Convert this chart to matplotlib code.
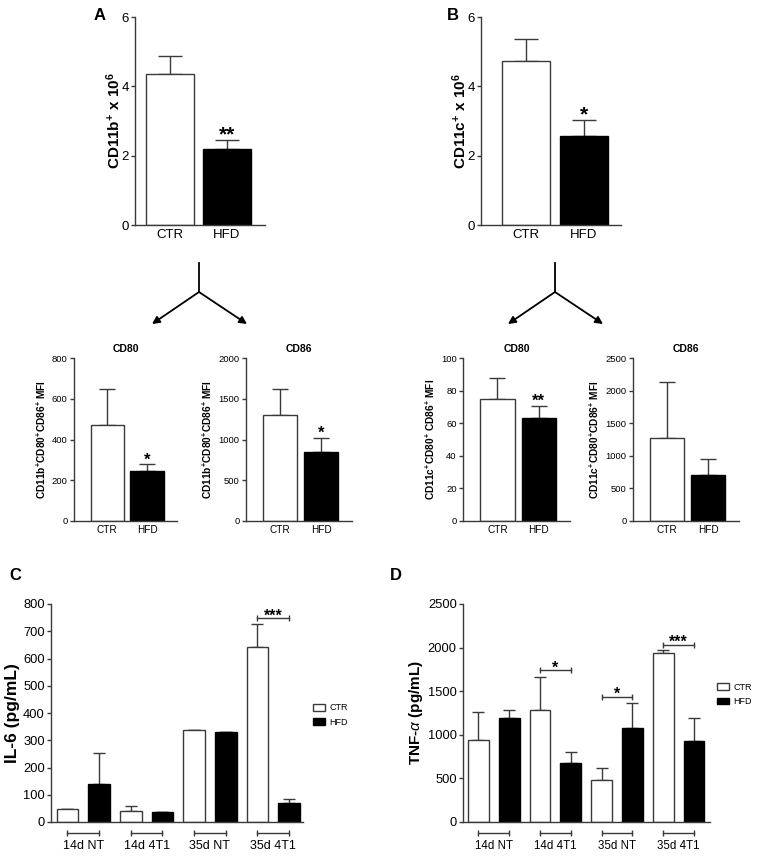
import numpy as np
import matplotlib
matplotlib.use("Agg")
import matplotlib.pyplot as plt
from matplotlib.patches import Patch
import matplotlib.transforms as mtransforms

# Donnees
groups = ["CTR", "HFD"]

# A : CD11b+ x 10^6
a_mean = [4.35, 2.18]
a_err = [0.53, 0.26]
# B : CD11c+ x 10^6
b_mean = [4.73, 2.58]
b_err = [0.63, 0.44]

# CD11b+ MFI
cd11b_cd80_mean = [469, 243]
cd11b_cd80_err = [179, 35]
cd11b_cd86_mean = [1299, 845]
cd11b_cd86_err = [316, 178]
# CD11c+ MFI
cd11c_cd80_mean = [74.6, 62.9]
cd11c_cd80_err = [13.2, 7.6]
cd11c_cd86_mean = [1271, 707]
cd11c_cd86_err = [865, 241]

conditions = ["14d NT", "14d 4T1", "35d NT", "35d 4T1"]
# C : IL-6
il6_ctr = [47, 41, 336, 644]
il6_ctr_err = [0, 16, 0, 83]
il6_hfd = [138, 35, 329, 70]
il6_hfd_err = [115, 2, 0, 16]
il6_sig = {3: ("***", 747)}
# D : TNF-alpha
tnf_ctr = [939, 1279, 485, 1939]
tnf_ctr_err = [328, 385, 137, 30]
tnf_hfd = [1191, 672, 1076, 924]
tnf_hfd_err = [95, 126, 290, 274]
tnf_sig = {1: ("*", 1740), 2: ("*", 1435), 3: ("***", 2031)}

plt.rcParams["font.family"] = ["Liberation Sans", "DejaVu Sans"]
plt.rcParams["mathtext.fontset"] = "custom"
plt.rcParams["mathtext.rm"] = "Liberation Sans"
plt.rcParams["mathtext.bf"] = "Liberation Sans:bold"
plt.rcParams["mathtext.it"] = "Liberation Sans:italic"

W, H = 762, 856
LC = "#3a3a3a"
fig = plt.figure(figsize=(W / 100, H / 100), dpi=100)


def axes_px(x0, x1, ytop, ybot):
    return fig.add_axes([x0 / W, 1 - ybot / H, (x1 - x0) / W, (ybot - ytop) / H])


def style(ax, fs):
    for s in ["top", "right"]:
        ax.spines[s].set_visible(False)
    for s in ["left", "bottom"]:
        ax.spines[s].set_color(LC)
        ax.spines[s].set_linewidth(1.0)
    ax.tick_params(axis="y", direction="out", length=3, width=1.0, color=LC,
                   labelsize=fs, pad=1.5)
    ax.tick_params(axis="x", length=0, labelsize=fs, pad=3)


def two_bars(ax, mean, err, ymax, step, ylabel, fs, lfs, yfs, capsize, star,
             starfs, xlim, width, lpad=3):
    x = np.arange(2)
    ax.bar(x, mean, width=width, color=["white", "black"], edgecolor=[LC, "black"],
           linewidth=1.0, zorder=2)
    ax.errorbar(x, mean, yerr=[np.zeros(2), err], fmt="none", ecolor=LC,
                elinewidth=1.0, capsize=capsize, capthick=1.0, zorder=1)
    ax.set_xlim(*xlim)
    ax.set_ylim(0, ymax)
    ax.set_yticks(np.arange(0, ymax + step / 2, step))
    ax.set_xticks(x)
    ax.set_xticklabels(groups)
    style(ax, fs)
    ax.tick_params(axis="x", labelsize=lfs)
    ax.set_ylabel(ylabel, fontsize=yfs, fontweight="bold", labelpad=lpad)
    if star:
        ax.annotate(star, (1, mean[1] + err[1]), xytext=(0, 0),
                    textcoords="offset points", ha="center", va="baseline",
                    fontsize=starfs, fontweight="bold")


# Panneaux A et B
axA = axes_px(135, 265, 17, 225)
two_bars(axA, a_mean, a_err, 6, 2, r"CD11b$^{\mathbf{+}}$ x 10$^{\mathbf{6}}$",
         9.5, 9.5, 11, 8.5, "**", 15, (-0.614, 1.667), 0.84, lpad=-1)
axB = axes_px(481, 621, 17, 225)
two_bars(axB, b_mean, b_err, 6, 2, r"CD11c$^{\mathbf{+}}$ x 10$^{\mathbf{6}}$",
         9.5, 9.5, 11, 8.5, "*", 15, (-0.776, 1.638), 0.83, lpad=-1)

# Petits panneaux
lab_b = r"CD11b$^{\mathbf{+}}$CD80$^{\mathbf{+}}$CD86$^{\mathbf{+}}$ MFI"
lab_c1 = r"CD11c$^{\mathbf{+}}$CD80$^{\mathbf{+}}$ CD86$^{\mathbf{+}}$ MFI"
lab_c2 = r"CD11c$^{\mathbf{+}}$CD80$^{\mathbf{+}}$CD86$^{\mathbf{+}}$ MFI"
small = [
    ((74, 177), cd11b_cd80_mean, cd11b_cd80_err, 800, 200, lab_b, "*", "CD80"),
    ((246, 352), cd11b_cd86_mean, cd11b_cd86_err, 2000, 500, lab_b, "*", "CD86"),
    ((463, 570), cd11c_cd80_mean, cd11c_cd80_err, 100, 20, lab_c1, "**", "CD80"),
    ((633, 739), cd11c_cd86_mean, cd11c_cd86_err, 2500, 500, lab_c2, None, "CD86"),
]
for (x0, x1), m, e, ymax, step, lab, star, title in small:
    ax = axes_px(x0, x1, 358, 521)
    two_bars(ax, m, e, ymax, step, lab, 6.8, 7.2, 7.3, 6, star, 12,
             (-0.83, 1.75), 0.83)
    ax.set_title(title, fontsize=7.5, fontweight="bold", pad=4)

# Fleches
def arrow_group(xc):
    y0, y1, y2 = 263, 292, 324
    fig.add_artist(plt.Line2D([xc / W, xc / W], [1 - y0 / H, 1 - y1 / H],
                              transform=fig.transFigure, color="black", lw=1.3))
    for xe in (xc - 47, xc + 48):
        fig.add_artist(matplotlib.patches.FancyArrowPatch(
            (xc / W, 1 - y1 / H), (xe / W, 1 - y2 / H), transform=fig.transFigure,
            arrowstyle="-|>", mutation_scale=11, color="black", lw=1.3,
            shrinkA=0, shrinkB=0))


arrow_group(199)
arrow_group(555)


def grouped(ax, ctr, ctr_err, hfd, hfd_err, ymax, step, ylabel, yfs, cfs, sig,
            xlim, legpos):
    x = np.arange(len(conditions))
    off, w = 0.25, 0.34
    ax.bar(x - off, ctr, width=w, color="white", edgecolor=LC, linewidth=1.0, zorder=2)
    ax.bar(x + off, hfd, width=w, color="black", edgecolor="black", linewidth=1.0, zorder=2)
    ax.errorbar(x - off, ctr, yerr=[np.zeros(4), ctr_err], fmt="none", ecolor=LC,
                elinewidth=1.0, capsize=4, capthick=1.0, zorder=1)
    ax.errorbar(x + off, hfd, yerr=[np.zeros(4), hfd_err], fmt="none", ecolor=LC,
                elinewidth=1.0, capsize=4, capthick=1.0, zorder=1)
    ax.set_xlim(*xlim)
    ax.set_ylim(0, ymax)
    ax.set_yticks(np.arange(0, ymax + step / 2, step))
    style(ax, 9.3)
    ax.set_xticks([])
    ax.set_ylabel(ylabel, fontsize=yfs, fontweight="bold", labelpad=2)
    trans = mtransforms.blended_transform_factory(ax.transData, ax.transAxes)
    for i, c in enumerate(conditions):
        ax.plot([i - off, i + off], [-0.05, -0.05], transform=trans, color=LC,
                lw=1.0, marker="|", ms=4, mew=1.0, clip_on=False)
        ax.text(i, -0.11, c, transform=trans, ha="center", va="center", fontsize=cfs)
    for i, (s, y) in sig.items():
        ax.plot([i - off, i + off], [y, y], color=LC, lw=1.0, marker="|", ms=4,
                mew=1.0, clip_on=False)
        ax.annotate(s, (i, y), xytext=(0, -1.5), textcoords="offset points",
                    ha="center", va="baseline", fontsize=11.5, fontweight="bold")
    handles = [Patch(facecolor="white", edgecolor=LC, linewidth=1.0, label="CTR"),
               Patch(facecolor="black", edgecolor="black", linewidth=1.0, label="HFD")]
    ax.legend(handles=handles, loc="center left", bbox_to_anchor=legpos,
              frameon=False, fontsize=6.5, handlelength=1.3, handleheight=0.8,
              handletextpad=0.5, labelspacing=0.6, borderpad=0, borderaxespad=0)


axC = axes_px(51, 303, 604, 822)
grouped(axC, il6_ctr, il6_ctr_err, il6_hfd, il6_hfd_err, 800, 100,
        "IL-6 (pg/mL)", 12.5, 9, il6_sig, (-0.51, 3.47), (1.04, 0.49))
axD = axes_px(463, 710, 604, 822)
grouped(axD, tnf_ctr, tnf_ctr_err, tnf_hfd, tnf_hfd_err, 2500, 500,
        r"TNF-$\alpha$ (pg/mL)", 11, 8.3, tnf_sig, (-0.5, 3.51), (1.03, 0.585))

# Lettres des panneaux
for lab, (px, py) in zip("ABCD", [(100, 15), (453, 15), (15, 575), (396, 575)]):
    fig.text(px / W, 1 - py / H, lab, fontsize=12, fontweight="bold",
             ha="center", va="center")

fig.savefig("out.png", dpi=100)
